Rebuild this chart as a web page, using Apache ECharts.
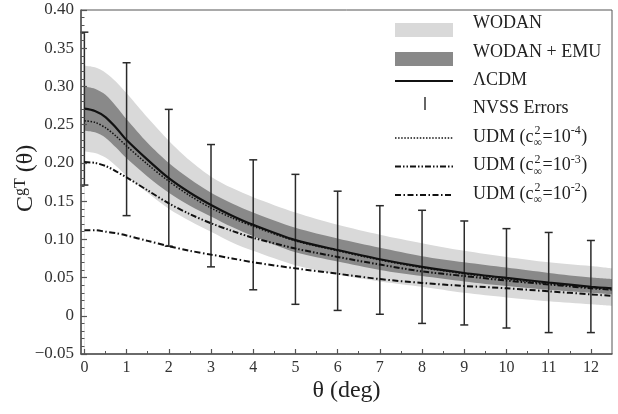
<!DOCTYPE html>
<html>
<head>
<meta charset="utf-8">
<script src="https://cdn.jsdelivr.net/npm/echarts@6/dist/echarts.min.js"></script>
<style>html,body{margin:0;padding:0;background:#fff}#c{width:618px;height:414px}</style>
</head>
<body>
<div id="c"></div>
<script>
// ---------- data ----------
const theta      = [0, 0.25, 0.5, 0.75, 1, 1.5, 2, 2.5, 3, 3.5, 4, 5, 6, 7, 8, 9, 10, 11, 12, 12.5];
const lcdm       = [0.271, 0.268, 0.260, 0.246, 0.230, 0.204, 0.180, 0.161, 0.145, 0.131, 0.119, 0.099, 0.086, 0.074, 0.064, 0.056, 0.0495, 0.0435, 0.038, 0.036];
const wodanUp    = [0.327, 0.325, 0.318, 0.306, 0.291, 0.259, 0.229, 0.203, 0.182, 0.167, 0.155, 0.135, 0.119, 0.106, 0.095, 0.085, 0.077, 0.070, 0.065, 0.062];
const wodanLo    = [0.215, 0.213, 0.207, 0.196, 0.183, 0.161, 0.140, 0.124, 0.110, 0.096, 0.085, 0.066, 0.054, 0.045, 0.038, 0.030, 0.024, 0.019, 0.015, 0.013];
const emuUp      = [0.300, 0.297, 0.289, 0.274, 0.257, 0.226, 0.200, 0.179, 0.161, 0.147, 0.135, 0.115, 0.101, 0.089, 0.078, 0.070, 0.063, 0.056, 0.050, 0.048];
const emuLo      = [0.242, 0.240, 0.233, 0.220, 0.206, 0.182, 0.161, 0.144, 0.130, 0.116, 0.104, 0.083, 0.071, 0.060, 0.052, 0.045, 0.039, 0.034, 0.030, 0.028];
const udm4       = [0.255, 0.253, 0.246, 0.235, 0.222, 0.198, 0.176, 0.157, 0.141, 0.128, 0.117, 0.098, 0.085, 0.073, 0.063, 0.055, 0.048, 0.042, 0.037, 0.035];
const udm3       = [0.201, 0.200, 0.196, 0.189, 0.181, 0.164, 0.147, 0.133, 0.121, 0.111, 0.102, 0.088, 0.077, 0.067, 0.058, 0.052, 0.046, 0.041, 0.036, 0.034];
const udm2       = [0.112, 0.112, 0.110, 0.108, 0.105, 0.098, 0.091, 0.085, 0.080, 0.075, 0.070, 0.062, 0.055, 0.048, 0.043, 0.039, 0.036, 0.032, 0.028, 0.026];

const errTheta   = [0, 1, 2, 3, 4, 5, 6, 7, 8, 9, 10, 11, 12];
const errHigh    = [0.371, 0.331, 0.270, 0.224, 0.204, 0.185, 0.163, 0.144, 0.138, 0.124, 0.114, 0.109, 0.0985];
const errLow     = [0.171, 0.131, 0.091, 0.064, 0.034, 0.015, 0.007, 0.002, -0.010, -0.012, -0.016, -0.022, -0.022];

const xTicks      = [0, 1, 2, 3, 4, 5, 6, 7, 8, 9, 10, 11, 12];
const xMinorTicks = [0.5, 1.5, 2.5, 3.5, 4.5, 5.5, 6.5, 7.5, 8.5, 9.5, 10.5, 11.5];
const xTickLabels = ['0', '1', '2', '3', '4', '5', '6', '7', '8', '9', '10', '11', '12'];
const yTicks      = [-0.05, 0, 0.05, 0.10, 0.15, 0.20, 0.25, 0.30, 0.35, 0.40];
const yTickLabels = ['\u22120.05', '0', '0.05', '0.10', '0.15', '0.20', '0.25', '0.30', '0.35', '0.40'];

const legendNames = ['WODAN', 'WODAN + EMU', '\u039BCDM', 'NVSS Errors'];
const udmExps     = ['-4', '-3', '-2'];
const xTitle      = '\u03B8 (deg)';
const yTitleParts = ['C', 'gT', ' (\u03B8)'];

// ---------- styling ----------
const SERIF = "'Liberation Serif', 'Times New Roman', serif";
const LIGHT = '#d9d9d9';
const DARK  = '#898989';
const AXIS  = '#555';
const dash4 = [1.5, 1.6];
const dash3 = [6, 2, 1.5, 2, 1.5, 2];
const dash2 = [6, 2.5, 1.5, 2.5];
const SMOOTH = 0.3;

const pairs = arr => theta.map((t, i) => [t, arr[i]]);

function nearestLabel(v, vals, labels) {
  let best = 0;
  for (let i = 1; i < vals.length; i++) if (Math.abs(vals[i] - v) < Math.abs(vals[best] - v)) best = i;
  return labels[best];
}

// ---------- legend and titles (graphic) ----------
const ctx = document.createElement('canvas').getContext('2d');
function tw(s, size) { ctx.font = size + 'px ' + SERIF; return ctx.measureText(s).width; }
function txt(s, x, y, size, extra) {
  return Object.assign({ type: 'text', x: x, y: y, silent: true, z: 100,
    style: { text: s, fill: '#222', font: size + 'px ' + SERIF, textAlign: 'left', textVerticalAlign: 'middle' } }, extra || {});
}
const LX = 473, SX1 = 395, SX2 = 453;
const rowY = [23.5, 52, 80.5, 108.5, 137, 165.5, 194];
const FS = 18, SS = 12;
const g = [];
g.push({ type: 'rect', z: 100, shape: { x: SX1, y: 23, width: SX2 - SX1, height: 14 }, style: { fill: LIGHT }, silent: true });
g.push({ type: 'rect', z: 100, shape: { x: SX1, y: 52, width: SX2 - SX1, height: 14 }, style: { fill: DARK }, silent: true });
g.push({ type: 'line', z: 100, shape: { x1: SX1, y1: 81, x2: SX2, y2: 81 }, style: { stroke: '#111', lineWidth: 2 }, silent: true });
g.push({ type: 'line', z: 100, shape: { x1: 425, y1: 97, x2: 425, y2: 110 }, style: { stroke: '#333', lineWidth: 1.5 }, silent: true });
g.push({ type: 'line', z: 100, shape: { x1: SX1, y1: 138, x2: SX2, y2: 138 }, style: { stroke: '#111', lineWidth: 1.5, lineDash: dash4 }, silent: true });
g.push({ type: 'line', z: 100, shape: { x1: SX1, y1: 166.5, x2: SX2, y2: 166.5 }, style: { stroke: '#111', lineWidth: 2, lineDash: dash3 }, silent: true });
g.push({ type: 'line', z: 100, shape: { x1: SX1, y1: 195, x2: SX2, y2: 195 }, style: { stroke: '#111', lineWidth: 2, lineDash: dash2 }, silent: true });
legendNames.forEach((n, i) => g.push(txt(n, LX, rowY[i], FS)));
udmExps.forEach((e, k) => {
  const y = rowY[4 + k];
  let x = LX;
  g.push(txt('UDM (c', x, y, FS)); x += tw('UDM (c', FS);
  g.push(txt('2', x + 1, y - 6, SS));
  g.push(txt('\u221E', x, y + 6, SS));
  x += Math.max(tw('2', SS) + 1, tw('\u221E', SS)) + 0.5;
  g.push(txt('=10', x, y, FS)); x += tw('=10', FS);
  g.push(txt(e, x, y - 6, SS)); x += tw(e, SS) + 0.5;
  g.push(txt(')', x, y, FS));
});
// x title
const XT = 24;
g.push(txt(xTitle, 346.5 - tw(xTitle, XT) / 2, 391, XT));
// y title, rotated 90deg counter-clockwise, reading bottom to top
const YT = 24, YS = 16, YCX = 26, YBOT = 212;
{
  let y = YBOT;
  g.push(txt(yTitleParts[0], YCX, y, YT, { rotation: Math.PI / 2 })); y -= tw(yTitleParts[0], YT);
  g.push(txt(yTitleParts[1], YCX - 5, y, YS, { rotation: Math.PI / 2 })); y -= tw(yTitleParts[1], YS);
  g.push(txt(yTitleParts[2], YCX, y, YT, { rotation: Math.PI / 2 }));
}

// ---------- chart ----------
const chart = echarts.init(document.getElementById('c'), null, { renderer: 'canvas' });
const lineBase = { type: 'line', showSymbol: false, symbol: 'none', smooth: SMOOTH, silent: true };
// bands: filled down to the axis minimum, layered so each band shows between its edges
const fillTo = (name, arr, color, z) => Object.assign({}, lineBase, {
  name: name, data: pairs(arr), z: z,
  lineStyle: { width: 0, opacity: 0 },
  areaStyle: { color: color, opacity: 1, origin: 'start' }
});

chart.setOption({
  animation: false,
  backgroundColor: '#fff',
  grid: { left: 81, right: 6, top: 10, bottom: 60, show: true, borderColor: AXIS, borderWidth: 1,
          backgroundColor: 'transparent', containLabel: false, outerBoundsMode: 'none', z: 10 },
  xAxis: [{
    type: 'value', min: -0.08, max: 12.5, position: 'bottom', z: 10,
    axisLine: { show: true, onZero: false, lineStyle: { color: AXIS, width: 1.5 } },
    axisTick: { show: true, inside: true, length: 5, customValues: xTicks, lineStyle: { color: AXIS, width: 1.2 } },
    axisLabel: { show: true, customValues: xTicks, margin: 6, fontFamily: SERIF, fontSize: 16, color: '#333',
      formatter: v => nearestLabel(v, xTicks, xTickLabels) },
    splitLine: { show: false }
  }, {
    type: 'value', min: -0.08, max: 12.5, position: 'bottom', offset: 0, z: 10,
    axisLine: { show: false, onZero: false },
    axisTick: { show: true, inside: true, length: 3, customValues: xMinorTicks, lineStyle: { color: AXIS, width: 1 } },
    axisLabel: { show: false },
    splitLine: { show: false }
  }],
  yAxis: {
    type: 'value', min: -0.05, max: 0.40, interval: 0.05, z: 10,
    axisLine: { show: true, onZero: false, lineStyle: { color: AXIS, width: 1.5 } },
    axisTick: { show: true, inside: true, length: 6, lineStyle: { color: AXIS, width: 1.2 } },
    minorTick: { show: true, splitNumber: 5, length: 3.5, lineStyle: { color: AXIS, width: 1 } },
    axisLabel: { margin: 7, fontFamily: SERIF, fontSize: 17, color: '#333',
      formatter: v => nearestLabel(v, yTicks, yTickLabels) },
    splitLine: { show: false }
  },
  series: [
    fillTo('WODAN', wodanUp, LIGHT, 1),
    fillTo('WODAN + EMU', emuUp, DARK, 1),
    fillTo('emuLo', emuLo, LIGHT, 1),
    fillTo('wodanLo', wodanLo, '#ffffff', 1),
    {
      name: 'NVSS Errors', type: 'custom', silent: true, z: 3,
      data: errTheta.map((t, i) => [t, errLow[i], errHigh[i]]),
      encode: { x: 0, y: [1, 2] },
      renderItem: (params, api) => {
        const top = api.coord([api.value(0), api.value(2)]);
        const bot = api.coord([api.value(0), api.value(1)]);
        const hw = 4;
        const st = { stroke: '#2a2a2a', lineWidth: 1.5 };
        return { type: 'group', children: [
          { type: 'line', shape: { x1: top[0], y1: top[1], x2: bot[0], y2: bot[1] }, style: st },
          { type: 'line', shape: { x1: top[0] - hw, y1: top[1], x2: top[0] + hw, y2: top[1] }, style: st },
          { type: 'line', shape: { x1: bot[0] - hw, y1: bot[1], x2: bot[0] + hw, y2: bot[1] }, style: st }
        ] };
      }
    },
    Object.assign({}, lineBase, { name: '\u039BCDM', z: 4, data: pairs(lcdm), lineStyle: { color: '#111', width: 2.2 } }),
    Object.assign({}, lineBase, { name: 'UDM -4', z: 4, data: pairs(udm4), lineStyle: { color: '#111', width: 1.5, type: dash4 } }),
    Object.assign({}, lineBase, { name: 'UDM -3', z: 4, data: pairs(udm3), lineStyle: { color: '#111', width: 2, type: dash3 } }),
    Object.assign({}, lineBase, { name: 'UDM -2', z: 4, data: pairs(udm2), lineStyle: { color: '#111', width: 2, type: dash2 } })
  ],
  graphic: g
});
</script>
</body>
</html>
